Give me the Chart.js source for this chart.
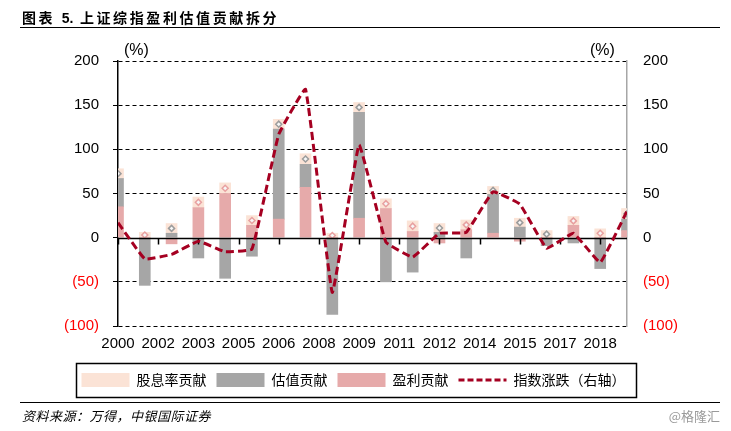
<!DOCTYPE html>
<html>
<head>
<meta charset="utf-8">
<script src="https://cdn.jsdelivr.net/npm/chart.js@4.4.1/dist/chart.umd.min.js"></script>
<style>
  html, body { margin: 0; padding: 0; background: #fff; }
  #wrap { position: relative; width: 731px; height: 431px; overflow: hidden; background: #fff; }
  #chart { position: absolute; left: 0; top: 0; }
  .txt { position: absolute; white-space: nowrap; color: #000; }
  .title { left: 22px; top: 7px; line-height: 17px; font: bold 14px "Liberation Sans", "Noto Sans CJK SC"; letter-spacing: 2.6px; }
  .title b { letter-spacing: 0; }
  .rule { position: absolute; left: 20px; width: 700px; height: 0; border-top: 1.5px solid #000; }
  .unit { top: 41px; line-height: 18px; font: 16px "Liberation Sans"; }
  .src { left: 22px; top: 406px; line-height: 16px; font: italic 13px "Noto Sans CJK SC"; letter-spacing: 0.5px; }
  .mark { right: 11px; top: 406px; line-height: 16px; font: 13px "Noto Sans CJK SC"; color: #9a9a9a; }
</style>
</head>
<body>
<div id="wrap">
  <canvas id="chart" width="731" height="431"></canvas>
  <div class="txt title">图表 <b>5.</b> 上证综指盈利估值贡献拆分</div>
  <div class="rule" style="top:27px"></div>
  <div class="txt unit" style="left:124px">(%)</div>
  <div class="txt unit" style="left:590px">(%)</div>
  <div class="rule" style="top:402px"></div>
  <div class="txt src">资料来源：万得，中银国际证券</div>
  <div class="txt mark">@格隆汇</div>
</div>
<script>
// ── Dati ───────────────────────────────────────────────────────────────────
const years = ['2000','2001','2002','2003','2004','2005','2006','2007','2008','2009',
               '2010','2011','2012','2013','2014','2015','2016','2017','2018','2019'];
const xTickLabels = ['2000','2002','2003','2005','2006','2008','2009','2011','2012','2014','2015','2017','2018'];
const yTickValues = [-100, -50, 0, 50, 100, 150, 200];
const yTickLabels = ['(100)', '(50)', '0', '50', '100', '150', '200'];

const dividendContrib  = [11, 6, 11, 12, 12, 11, 11, 12, 5, 11, 11, 12, 10, 11, 9, 10, 8, 10, 10, 12];
const valuationContrib = [32, -54, 5, -23, -46, -21, 102, 26, -87, 120, -50, -39, 6, -23, 44, 12, -9, -6, -35, 13];
const earningsContrib  = [35, 0, -7, 34, 50, 14, 21, 57, 0, 22, 33, 7, -6, 9, 5, -4, 0, 14, 0, 8];
const indexChange      = [17, -24, -19, -4, -16, -13, 117, 168, -62, 105, -5, -22, 5, 6, 52, 38, -12, 5, -28, 30];
const markerTone       = ['grey','pink','grey','pink','pink','pink','grey','grey','pink','grey',
                          'pink','pink','grey','pink','grey','grey','grey','pink','pink','grey'];

const COLORS = {
  peach: '#FBE3D6',
  grey:  '#A6A6A6',
  pink:  '#E6AAAA',
  line:  '#A50021',
  markGrey: '#9C9C9C',
  markPink: '#E8A0A0',
};

const tickFont = { family: "'Liberation Sans', Arial", size: 15 };
const legendFontSize = 14;
const legendBoxHeight = 14;

const toXY = arr => arr.map((v, i) => ({ x: i, y: v }));

// centro del tappo "股息率" sopra la pila positiva
const markerY = dividendContrib.map((d, i) =>
  Math.max(earningsContrib[i], 0) + Math.max(valuationContrib[i], 0) + d / 2);

const LEGEND_SHIFT = -12;

// ── Linea dello zero, tacche asse x, cornice legenda ───────────────────────
const framePlugin = {
  id: 'frame',
  afterLayout(chart) {
    const lg = chart.legend;
    lg.left += LEGEND_SHIFT;
    lg.right += LEGEND_SHIFT;
  },
  beforeDatasetDraw(chart, args) {
    if (args.index !== 3) return;
    const { ctx, chartArea, scales: { x, y } } = chart;
    const y0 = Math.round(y.getPixelForValue(0)) + 0.5;
    ctx.save();
    ctx.strokeStyle = '#000';
    ctx.lineWidth = 1.5;
    ctx.beginPath();
    ctx.moveTo(chartArea.left, y0);
    ctx.lineTo(chartArea.right, y0);
    x.ticks.forEach(t => {
      const px = Math.round(x.getPixelForValue(t.value)) + 0.5;
      ctx.moveTo(px, y0);
      ctx.lineTo(px, y0 + 6);
    });
    ctx.stroke();
    ctx.restore();
  },
  afterDraw(chart) {
    const lg = chart.legend;
    const pad = lg.options.labels.padding;
    const rowW = lg.lineWidths[0];
    const start = (lg.left + pad + lg.right - rowW) / 2;
    const cy = lg.top + pad + Math.max(legendFontSize, legendBoxHeight) / 2;
    const ctx = chart.ctx;
    ctx.save();
    ctx.strokeStyle = '#000';
    ctx.lineWidth = 1.5;
    ctx.strokeRect(Math.round(start - 6) + 0.5, Math.round(cy - 17) + 0.5,
                   Math.round(rowW - pad + 16), 34);
    ctx.restore();
  },
};

new Chart(document.getElementById('chart'), {
  data: {
    datasets: [
      {
        type: 'bar', label: '盈利贡献', data: toXY(earningsContrib),
        backgroundColor: COLORS.pink, barThickness: 11, order: 2, clip: 0,
      },
      {
        type: 'bar', label: '估值贡献', data: toXY(valuationContrib),
        backgroundColor: COLORS.grey, barThickness: 11, order: 2, clip: 0,
      },
      {
        type: 'bar', label: '股息率贡献', data: toXY(dividendContrib),
        backgroundColor: COLORS.peach, barThickness: 11, order: 2, clip: 0,
      },
      {
        type: 'line', label: '指数涨跌（右轴）', data: toXY(indexChange), yAxisID: 'y2',
        borderColor: COLORS.line, borderWidth: 3, borderDash: [8, 4],
        tension: 0.08, pointRadius: 0, fill: false, order: 0,
      },
      {
        type: 'line', label: 'marker', data: toXY(markerY), stack: 'markers',
        showLine: false, pointStyle: 'rectRot', pointRadius: 3, pointBorderWidth: 1.5,
        pointBackgroundColor: '#F7F7F7',
        pointBorderColor: markerTone.map(t => t === 'grey' ? COLORS.markGrey : COLORS.markPink),
        order: 1, clip: 0,
      },
    ],
  },
  options: {
    responsive: false,
    animation: false,
    events: [],
    layout: { padding: { left: 0, right: 0, top: 61, bottom: 34 } },
    plugins: {
      tooltip: { enabled: false },
      legend: {
        position: 'bottom',
        labels: {
          usePointStyle: true, pointStyleWidth: 48, boxHeight: legendBoxHeight, padding: 10,
          color: '#000', font: { family: 'Noto Sans CJK SC', size: legendFontSize },
          generateLabels: () => [
            { text: '股息率贡献', fillStyle: COLORS.peach, strokeStyle: COLORS.peach, lineWidth: 0, pointStyle: 'rect', hidden: false, datasetIndex: 2 },
            { text: '估值贡献', fillStyle: COLORS.grey, strokeStyle: COLORS.grey, lineWidth: 0, pointStyle: 'rect', hidden: false, datasetIndex: 1 },
            { text: '盈利贡献', fillStyle: COLORS.pink, strokeStyle: COLORS.pink, lineWidth: 0, pointStyle: 'rect', hidden: false, datasetIndex: 0 },
            { text: '指数涨跌（右轴）', fillStyle: 'rgba(0,0,0,0)', strokeStyle: COLORS.line, lineWidth: 3, lineDash: [6, 3], pointStyle: 'line', hidden: false, datasetIndex: 3 },
          ],
        },
      },
    },
    scales: {
      x: {
        type: 'linear', min: 0, max: years.length - 1, stacked: true, offset: false,
        afterFit: s => { s.height = 37; },
        grid: { display: false, drawTicks: false },
        border: { display: false },
        ticks: {
          stepSize: 1.5, includeBounds: false, autoSkip: false, maxRotation: 0,
          padding: 9, color: '#000', font: tickFont,
          callback: (v, i) => xTickLabels[i] ?? '',
        },
      },
      y: {
        position: 'left', stacked: true, min: -100, max: 200,
        afterBuildTicks: s => { s.ticks = yTickValues.map(v => ({ value: v })); },
        afterFit: s => { s.width = 118; },
        grid: {
          color: c => (c.tick && c.tick.value === 0) ? 'rgba(0,0,0,0)' : '#000',
          tickColor: '#000', tickLength: 5, lineWidth: 1,
        },
        border: { color: '#000', width: 1.5, dash: [4, 3] },
        ticks: {
          padding: 14, font: tickFont,
          color: c => c.tick.value < 0 ? '#FF0000' : '#000',
          callback: v => yTickLabels[yTickValues.indexOf(v)],
        },
      },
      y2: {
        position: 'right', min: -100, max: 200,
        afterBuildTicks: s => { s.ticks = yTickValues.map(v => ({ value: v })); },
        afterFit: s => { s.width = 104; },
        grid: { display: false, drawTicks: false },
        border: { color: '#A6A6A6', width: 1.5 },
        ticks: {
          padding: 16, font: tickFont,
          color: c => c.tick.value < 0 ? '#FF0000' : '#000',
          callback: v => yTickLabels[yTickValues.indexOf(v)],
        },
      },
    },
  },
  plugins: [framePlugin],
});
</script>
</body>
</html>
